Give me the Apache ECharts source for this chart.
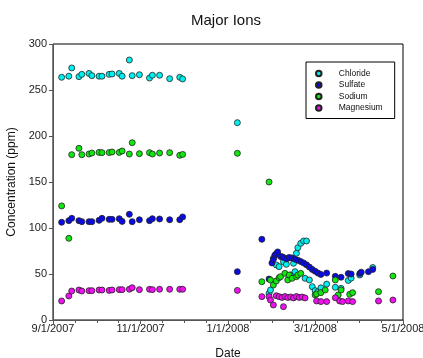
<!DOCTYPE html>
<html>
<head>
<meta charset="utf-8">
<script src="https://cdn.jsdelivr.net/npm/echarts@6/dist/echarts.min.js"></script>
<style>
  html, body { margin: 0; padding: 0; background: #fff; }
  #chart { width: 423px; height: 358px; }
</style>
</head>
<body>
<div id="chart"></div>
<script>
// x tick labels (every two months from 9/1/2007)
const dateTicks = ["9/1/2007", "11/1/2007", "1/1/2008", "3/1/2008", "5/1/2008"];

// fall 2007 sampling run, all four ions share the dates
const fallDates = [
  "2007-09-07", "2007-09-12", "2007-09-14", "2007-09-19", "2007-09-21", "2007-09-26",
  "2007-09-28", "2007-10-03", "2007-10-05", "2007-10-10", "2007-10-12", "2007-10-17",
  "2007-10-19", "2007-10-24", "2007-10-26", "2007-10-31", "2007-11-07", "2007-11-09",
  "2007-11-14", "2007-11-21", "2007-11-28", "2007-11-30"
];
const chlorideFall = [263.8, 265, 274, 264.5, 267, 268, 265.6, 265, 265, 267, 267.4, 268,
  265, 282.6, 265.6, 266.6, 263, 266, 266, 262.3, 263.8, 262];
const sulfateFall = [106.2, 108, 110.5, 108, 106.9, 106.9, 106.9, 108.3, 110.5, 109.4, 109.4, 110.1,
  107.2, 114.9, 106.9, 109, 108, 110.1, 109.8, 109, 109, 112];
const sodiumFall = [124, 88.8, 179.7, 186.6, 179.7, 180.4, 181.5, 182.2, 181.9, 182, 182.6, 182.2,
  183.7, 180.4, 192.7, 180.8, 181.9, 180.4, 181.5, 181.9, 179, 180];
const magnesiumFall = [20.7, 26.1, 31.5, 32.6, 31.5, 31.9, 31.9, 32.6, 32.6, 32.2, 32.6, 33,
  33, 33.4, 35.1, 33, 33.4, 33, 33.4, 33.4, 33.4, 33.4];

// 2008 samples [date, ppm]
const chlorideWinter = [
  ["2008-01-07", 214.5], ["2008-01-29", 29], ["2008-01-30", 32.6], ["2008-02-01", 67],
  ["2008-02-03", 59.8], ["2008-02-05", 58], ["2008-02-07", 68.8], ["2008-02-08", 63.4],
  ["2008-02-10", 60.5], ["2008-02-11", 67], ["2008-02-13", 48.9], ["2008-02-15", 61.6],
  ["2008-02-16", 52.5], ["2008-02-17", 72.5], ["2008-02-18", 78.6], ["2008-02-20", 83.3],
  ["2008-02-22", 85.9], ["2008-02-24", 85.9], ["2008-02-23", 45.3], ["2008-02-26", 43.5],
  ["2008-02-28", 36.2], ["2008-03-01", 31.9], ["2008-03-03", 30.8], ["2008-03-05", 35],
  ["2008-03-09", 39], ["2008-03-15", 35.5], ["2008-03-19", 34.4], ["2008-03-24", 43],
  ["2008-03-26", 45.5], ["2008-04-01", 48.9], ["2008-04-10", 57]
];
const sulfateWinter = [
  ["2008-01-07", 52.5], ["2008-01-24", 87.7], ["2008-01-29", 44.5], ["2008-01-31", 62],
  ["2008-02-01", 66], ["2008-02-02", 70.5], ["2008-02-03", 72], ["2008-02-04", 74],
  ["2008-02-06", 69], ["2008-02-08", 68], ["2008-02-10", 66.5], ["2008-02-12", 68],
  ["2008-02-14", 67.5], ["2008-02-16", 66], ["2008-02-18", 65], ["2008-02-20", 63.5],
  ["2008-02-22", 62], ["2008-02-24", 60], ["2008-02-26", 57.5], ["2008-02-28", 55],
  ["2008-03-01", 53], ["2008-03-03", 51], ["2008-03-05", 49.5], ["2008-03-09", 51],
  ["2008-03-15", 47.5], ["2008-03-19", 46.5], ["2008-03-24", 50.5], ["2008-03-26", 50],
  ["2008-04-01", 50.5], ["2008-04-02", 52], ["2008-04-07", 52.5], ["2008-04-10", 55]
];
const sodiumWinter = [
  ["2008-01-07", 181.2], ["2008-01-24", 41.6], ["2008-01-29", 150], ["2008-01-30", 43.5],
  ["2008-02-01", 38], ["2008-02-03", 42.4], ["2008-02-05", 46], ["2008-02-06", 47.1],
  ["2008-02-09", 50.7], ["2008-02-11", 43.5], ["2008-02-12", 48.9], ["2008-02-14", 45.3],
  ["2008-02-17", 47.1], ["2008-02-18", 48.9], ["2008-02-20", 50.7], ["2008-03-01", 27.2],
  ["2008-03-02", 28.3], ["2008-03-05", 29.7], ["2008-03-08", 32.6], ["2008-03-15", 43.5],
  ["2008-03-17", 27.2], ["2008-03-19", 32.6], ["2008-03-25", 27.9], ["2008-03-27", 29.7],
  ["2008-04-14", 30.8], ["2008-04-24", 47.8]
];
const magnesiumWinter = [
  ["2008-01-07", 32.2], ["2008-01-24", 25.4], ["2008-01-29", 25.4], ["2008-01-30", 21.7],
  ["2008-02-01", 16.3], ["2008-02-03", 26.4], ["2008-02-05", 25.4], ["2008-02-07", 24.5],
  ["2008-02-08", 14.5], ["2008-02-09", 25.5], ["2008-02-11", 24.5], ["2008-02-13", 25],
  ["2008-02-15", 24], ["2008-02-17", 25.5], ["2008-02-19", 24.5], ["2008-02-21", 25],
  ["2008-02-23", 24], ["2008-03-02", 20.7], ["2008-03-05", 20], ["2008-03-09", 20],
  ["2008-03-15", 24.2], ["2008-03-18", 20.7], ["2008-03-20", 20], ["2008-03-24", 20.7],
  ["2008-03-27", 20], ["2008-04-14", 20.7], ["2008-04-24", 21.7]
];

const START = Date.UTC(2007, 8, 1);
const STEP = 60.75; // days between two-month ticks (243 / 4)

function dayOf(s) {
  const p = s.split("-");
  return (Date.UTC(+p[0], +p[1] - 1, +p[2]) - START) / 86400000;
}
function build(fallVals, winter) {
  const out = fallDates.map((d, i) => [dayOf(d), fallVals[i]]);
  winter.forEach(w => out.push([dayOf(w[0]), w[1]]));
  return out;
}

const font = "Liberation Sans, Arial, sans-serif";
const chart = echarts.init(document.getElementById("chart"));

function ion(name, color, data) {
  return {
    name: name,
    type: "scatter",
    symbol: "circle",
    symbolSize: 6,
    itemStyle: { color: color, borderColor: "#222", borderWidth: 0.8, opacity: 1 },
    data: data,
    animation: false
  };
}

chart.setOption({
  animation: false,
  title: {
    text: "Major Ions",
    left: 221,
    top: 8,
    textAlign: "center",
    textStyle: { fontFamily: font, fontSize: 15, fontWeight: "normal", color: "#111" }
  },
  legend: {
    orient: "vertical",
    left: 306,
    top: 62,
    icon: "circle",
    itemWidth: 20,
    itemHeight: 5.5,
    itemGap: 2.5,
    padding: [7, 12, 6, 9],
    borderColor: "#000",
    borderWidth: 1,
    textStyle: { fontFamily: font, fontSize: 8.5, lineHeight: 8, color: "#111", padding: [0, 0, 0, 5] },
    data: ["Chloride", "Sulfate", "Sodium", "Magnesium"]
  },
  grid: {
    left: 53, right: 20, top: 44, bottom: 38,
    show: true, borderColor: "#000", borderWidth: 1,
    outerBoundsMode: "none"
  },
  xAxis: {
    type: "value",
    min: 0,
    max: 243,
    interval: STEP,
    name: "Date",
    nameLocation: "middle",
    nameGap: 28,
    nameTextStyle: { fontFamily: font, fontSize: 12, color: "#111" },
    axisLine: { lineStyle: { color: "#555", width: 1 } },
    axisTick: { length: 4, lineStyle: { color: "#555" } },
    minorTick: { show: true, splitNumber: 4, length: 3, lineStyle: { color: "#555" } },
    splitLine: { show: false },
    axisLabel: {
      margin: 3,
      fontFamily: font, fontSize: 11, color: "#222",
      formatter: v => dateTicks[Math.round(v / STEP)] || ""
    }
  },
  yAxis: {
    type: "value",
    min: 0,
    max: 300,
    interval: 50,
    name: "Concentration (ppm)",
    nameLocation: "middle",
    nameGap: 34,
    nameTextStyle: { fontFamily: font, fontSize: 12, color: "#111" },
    axisLine: { show: true, lineStyle: { color: "#555", width: 1 } },
    axisTick: { show: true, length: 4, lineStyle: { color: "#555" } },
    splitLine: { show: false },
    axisLabel: { margin: 6, fontFamily: font, fontSize: 11, color: "#222" }
  },
  series: [
    ion("Chloride", "#00f0f0", build(chlorideFall, chlorideWinter)),
    ion("Sulfate", "#0a0ae6", build(sulfateFall, sulfateWinter)),
    ion("Sodium", "#10e610", build(sodiumFall, sodiumWinter)),
    ion("Magnesium", "#f010f0", build(magnesiumFall, magnesiumWinter))
  ]
});
</script>
</body>
</html>
